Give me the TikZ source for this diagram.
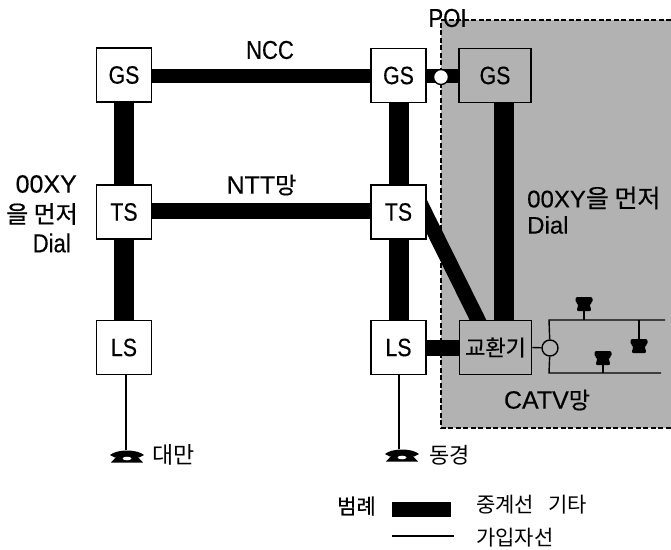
\documentclass[tikz,border=0pt]{standalone}
\usepackage{fontspec}
\usetikzlibrary{backgrounds,calc}
\setmainfont[FakeBold=0.3]{Liberation Sans}
\newfontfamily\narrowf[FakeStretch=0.85,FakeBold=0.3]{Liberation Sans}
\newfontfamily\kr{Noto Sans CJK KR}
\newfontfamily\krb[FakeBold=0.5]{Noto Sans CJK KR}
\tikzset{
  sw/.style={draw=black,fill=white,line width=1.5pt,minimum width=55pt,minimum height=54pt,inner sep=0pt,font=\narrowf\fontsize{25}{27}\selectfont},
  swwide/.style={sw,fill=black!30,minimum width=72pt},
  lbl/.style={inner sep=0pt,font=\fontsize{25}{27}\selectfont},
  nlbl/.style={inner sep=0pt,font=\narrowf\fontsize{26}{28}\selectfont},
  krl/.style={inner sep=0pt,font=\kr\fontsize{#1}{26}\selectfont},
  krl/.default=21,
  krh/.style={inner sep=0pt,font=\krb\fontsize{#1}{26}\selectfont},
  trunk/.style={line width=#1,draw=black},
  trunk/.default=17pt,
  sub/.style={draw=black,line width=1.4pt},
  joint/.style={circle,draw=black,line width=1.4pt,minimum size=#1,inner sep=0pt},
  joint/.default=15pt,
  pics/phone/.style={code={
    \fill[black] (-9,-1) -- (9,-1) -- (16,6.5) -- (-16,6.5) -- cycle;
    \fill[black] (-17,-1) .. controls (-10,-7) and (10,-7) .. (17,-1) -- (12,1.5) -- (7,-1) -- (-7,-1) -- (-12,1.5) -- cycle;
    \fill[white] (0,2.5) ellipse (4.5 and 1.8);
  }},
  pics/minihandset/.style={code={
    \fill[black,rounded corners=2pt] (-8.5,-7) -- (8.5,-7) -- (8.5,-1) -- (5.5,0) -- (7.5,7) -- (-7.5,7) -- (-5.5,0) -- (-8.5,-1) -- cycle;
  }}
}
\begin{document}
\begin{tikzpicture}[x=1pt,y=-1pt]
\useasboundingbox (0,0) rectangle (671,549);
% switches
\node[sw] (gsa) at (124,75) {GS};
\node[sw] (tsa) at (124,212) {TS};
\node[sw] (lsa) at (124,347.5) {LS};
\node[sw] (gsb) at (398.5,75.5) {GS};
\node[sw] (tsb) at (398.5,212) {TS};
\node[sw] (lsb) at (398.5,347.5) {LS};
\node[swwide] (gsc) at (495,75.5) {GS};
\node[swwide,font=\krb\fontsize{22}{24}\selectfont] (ex) at (495.5,347.5) {교환기};
\coordinate (gscb) at (504,95);
\coordinate (exv) at (504,330);
\coordinate (ds) at (413.6,190);
\coordinate (de) at (486.4,337);
\begin{scope}[on background layer]
  \fill[black!30] (441,20) rectangle (671,428);
  \draw[black,line width=1.5pt,dash pattern=on 5pt off 2.5pt] (671,20) -- (441,20) -- (441,428) -- (671,428);
  \draw[trunk=20pt] (gsa) -- (tsa);
  \draw[trunk=20pt] (tsa) -- (lsa);
  \draw[trunk=20pt] (gsb) -- (tsb);
  \draw[trunk=20pt] (tsb) -- (lsb);
  \draw[trunk=14pt] ($(gsa.center)+(0,1)$) -- ($(gsb.center)+(0,0.5)$);
  \draw[trunk=16pt] ($(tsa.center)+(0,-1)$) -- ($(tsb.center)+(0,-1)$);
  \draw[trunk=14pt] (gsb) -- (gsc);
  \draw[trunk=16pt] (lsb) -- (ex);
  \draw[trunk=20pt] (gscb) -- (exv);
  \draw[trunk=15pt] (ds) -- (de);
\end{scope}
% POI joint
\node[joint,fill=white] (poi) at (441,77) {};
% CATV subscriber network
\node[joint=16pt,fill=none] (catv) at (550,348) {};
\draw[sub] (ex.east) -- (catv);
\coordinate (nta) at (549,320);
\coordinate (ntb) at (665,320);
\coordinate (nba) at (549,373);
\coordinate (nbb) at (661,373);
\draw[sub] (ntb) -- (nta) -- (catv) -- (nba) -- (nbb);
\coordinate (p1) at (584,304);
\coordinate (p2) at (639,346);
\coordinate (p3) at (603,358);
\coordinate (s1) at (584,320);
\coordinate (s2) at (639,320);
\coordinate (s3) at (603,373);
\draw[sub] (p1) -- (s1);
\draw[sub] (p2) -- (s2);
\draw[sub] (p3) -- (s3);
\pic at (p1) {minihandset};
\pic at (p2) {minihandset};
\pic at (p3) {minihandset};
% subscribers
\coordinate (pha) at (127,456);
\coordinate (phb) at (402,455);
\coordinate (pta) at (126,450);
\coordinate (ptb) at (399,449);
\draw[sub] (lsa.south -| pta) -- (pta);
\draw[sub] (lsb.south -| ptb) -- (ptb);
\pic at (pha) {phone};
\pic at (phb) {phone};
% labels
\node[nlbl] (tncc) at (270,50) {NCC};
\node[lbl] (tntt) at (261.5,185) {NTT\krb\fontsize{23}{26}\selectfont 망};
\node[nlbl] (tpoi) at (447.5,18) {POI};
\node[lbl,anchor=east] (td1) at (77,184) {00XY};
\node[krh=24,anchor=east] (td2) at (78,214) {을 먼저};
\node[nlbl,anchor=east] (td3) at (71,243) {Dial};
\node[lbl,anchor=west,font=\fontsize{24}{26}\selectfont] (tr1) at (527,198) {00XY\krb\fontsize{25}{26}\selectfont 을 먼저};
\node[lbl,anchor=west,font=\fontsize{24}{26}\selectfont] (tr2) at (527,225) {Dial};
\node[lbl] (tcatv) at (547,400) {CATV\krb\fontsize{23}{26}\selectfont 망};
\node[krl=23,anchor=west] (tta) at (152,455) {대만};
\node[krl=22,anchor=west] (ttb) at (429,455) {동경};
% legend
\node[krh=21,anchor=west] (tleg) at (337,506) {범례};
\coordinate (la) at (392,509.5);
\coordinate (lb) at (451,509.5);
\draw[trunk=15pt] (la) -- (lb);
\coordinate (lc) at (392,536);
\coordinate (ld) at (454,536);
\draw[sub] (lc) -- (ld);
\node[krl,anchor=west] (tl1) at (476,505) {중계선\hspace{14pt}기타};
\node[krl,anchor=west] (tl2) at (476,538) {가입자선};
\end{tikzpicture}
\end{document}
